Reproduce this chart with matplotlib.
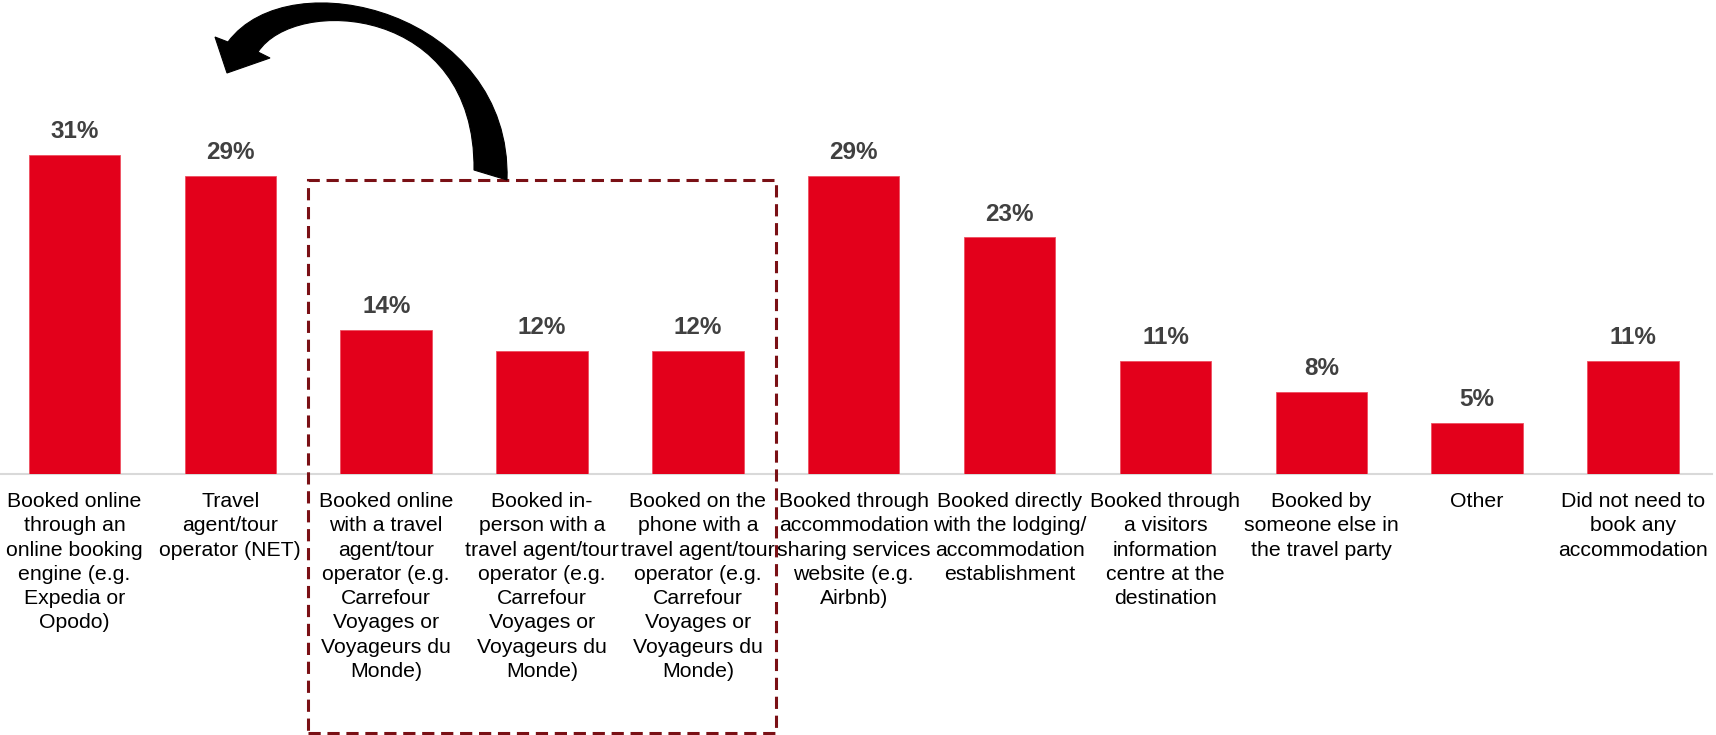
import matplotlib
matplotlib.use("Agg")
import matplotlib.pyplot as plt
from matplotlib.patches import Rectangle, PathPatch
from matplotlib.path import Path
from matplotlib.transforms import Affine2D

plt.rcParams['font.family'] = ['Liberation Sans', 'DejaVu Sans']

categories = [
    "Booked online\nthrough an\nonline booking\nengine (e.g.\nExpedia or\nOpodo)",
    "Travel\nagent/tour\noperator (NET)",
    "Booked online\nwith a travel\nagent/tour\noperator (e.g.\nCarrefour\nVoyages or\nVoyageurs du\nMonde)",
    "Booked in-\nperson with a\ntravel agent/tour\noperator (e.g.\nCarrefour\nVoyages or\nVoyageurs du\nMonde)",
    "Booked on the\nphone with a\ntravel agent/tour\noperator (e.g.\nCarrefour\nVoyages or\nVoyageurs du\nMonde)",
    "Booked through\naccommodation\nsharing services\nwebsite (e.g.\nAirbnb)",
    "Booked directly\nwith the lodging/\naccommodation\nestablishment",
    "Booked through\na visitors\ninformation\ncentre at the\ndestination",
    "Booked by\nsomeone else in\nthe travel party",
    "Other",
    "Did not need to\nbook any\naccommodation",
]
values = [31, 29, 14, 12, 12, 29, 23, 11, 8, 5, 11]
value_labels = [f"{v}%" for v in values]

# group of travel-agent channels highlighted by the dashed frame
group_start, group_end = 2, 4

BAR_RED = "#E3001B"
W, H = 1716, 735

fig = plt.figure(figsize=(W / 100, H / 100), dpi=100)
ax = fig.add_axes([0, (H - 474) / H, 1712 / W, 411.6 / H])

x = list(range(len(values)))
ax.bar(x, values, width=0.587, color=BAR_RED, edgecolor="#EE5060", linewidth=0.6, zorder=3)
ax.set_xlim(-0.478, 10.507)
ax.set_ylim(0, 40)

for xi, v, lab in zip(x, values, value_labels):
    ax.annotate(lab, (xi, v), xytext=(0, 8.5), textcoords="offset points",
                ha="center", va="bottom", fontsize=17.5, fontweight="bold",
                color="#404040")

for xi, cat in zip(x, categories):
    ax.annotate(cat, (xi, 0), xytext=(0, -13), textcoords="offset points",
                ha="center", va="top", fontsize=15.3, color="#000000",
                linespacing=1.35, annotation_clip=False)

for s in ["top", "right", "left"]:
    ax.spines[s].set_visible(False)
ax.spines["bottom"].set_color("#D9D9D9")
ax.spines["bottom"].set_linewidth(1.5)
ax.set_xticks([])
ax.set_yticks([])

# dashed frame around the travel-agent channels
frame = Rectangle((group_start - 0.5, -25.2), (group_end - group_start) + 1.0, 25.2 + 28.6,
                  fill=False, edgecolor="#7A1015", linewidth=2.2,
                  linestyle=(0, (4, 2.2)), clip_on=False, zorder=4)
ax.add_patch(frame)

# curved arrow from the frame back to the online-booking bar (pixel space, y down)
verts = [
    (507, 180),
    (512, 12), (290, -42), (228, 42),
    (215, 37),
    (227, 73),
    (270, 58),
    (258, 52),
    (295, -5), (476, 5), (474, 170),
    (507, 180),
]
codes = [
    Path.MOVETO,
    Path.CURVE4, Path.CURVE4, Path.CURVE4,
    Path.LINETO,
    Path.LINETO,
    Path.LINETO,
    Path.LINETO,
    Path.CURVE4, Path.CURVE4, Path.CURVE4,
    Path.CLOSEPOLY,
]
pix = Affine2D().scale(1 / W, -1 / H).translate(0, 1) + fig.transFigure
arrow = PathPatch(Path(verts, codes), facecolor="black", edgecolor="black",
                  linewidth=0.8, transform=pix)
fig.add_artist(arrow)

fig.savefig("out.png", dpi=100, facecolor="white")
